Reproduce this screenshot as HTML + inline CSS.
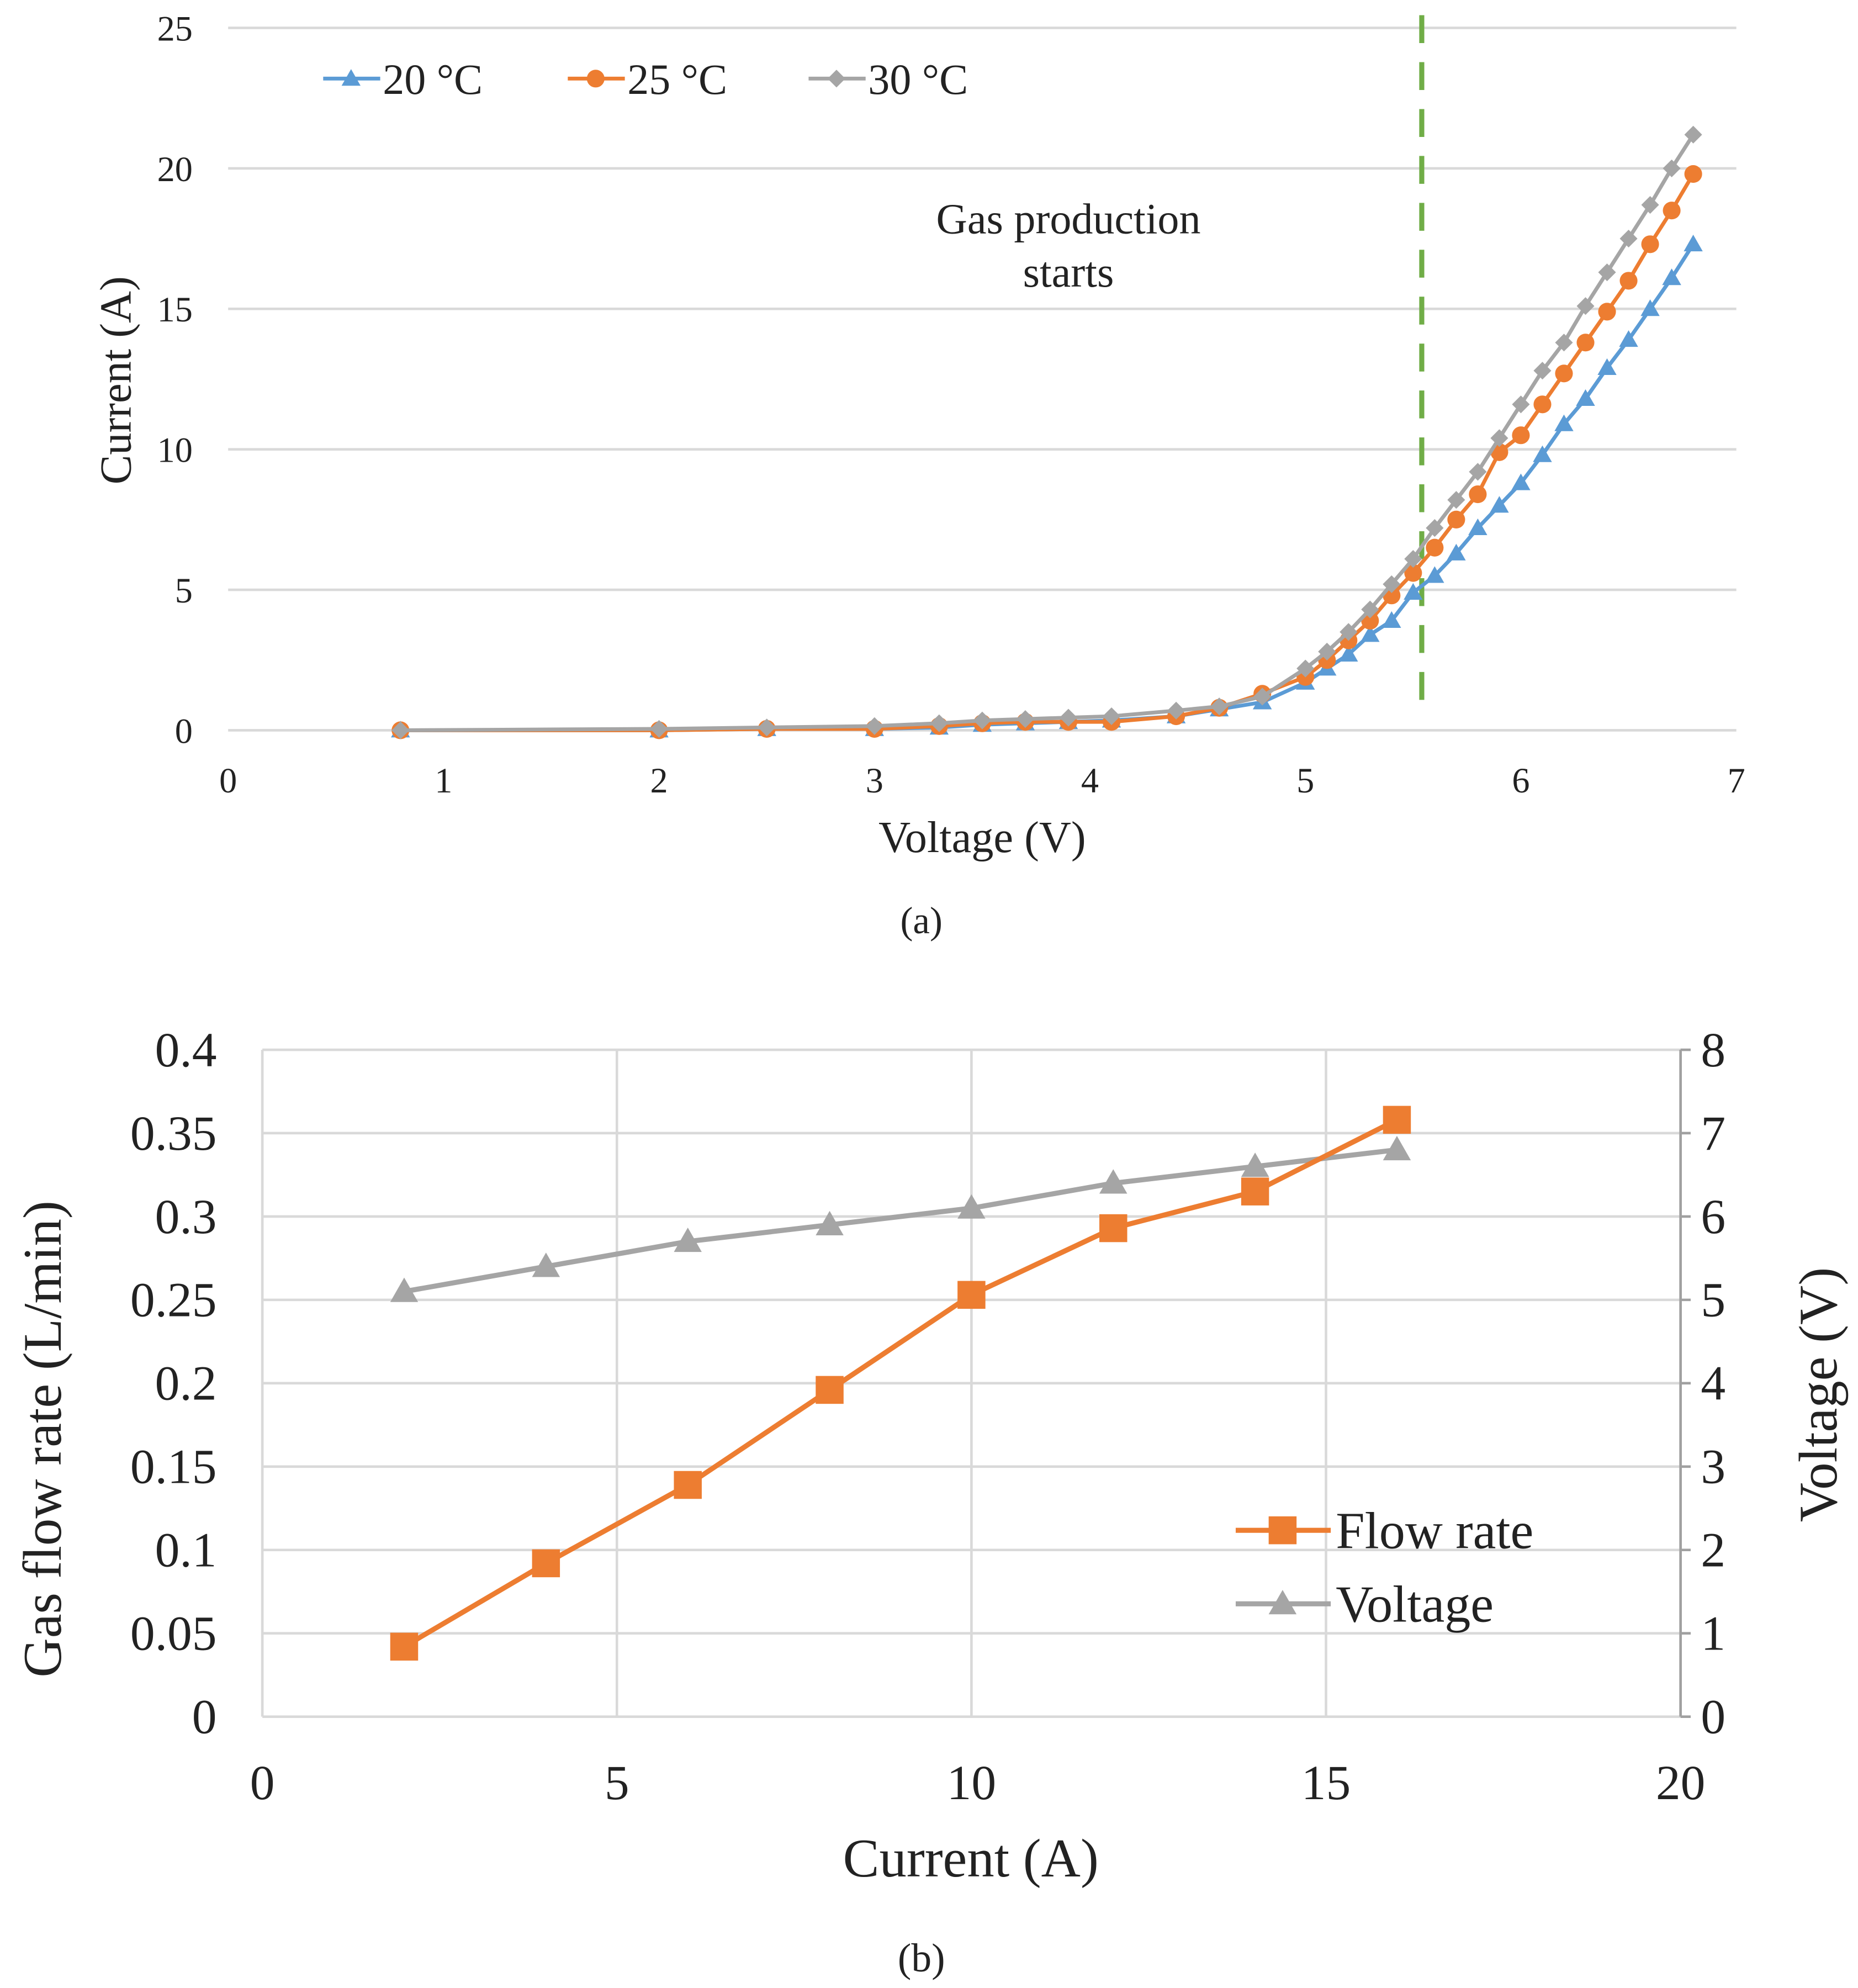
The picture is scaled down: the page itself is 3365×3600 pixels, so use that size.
<!DOCTYPE html>
<html><head><meta charset="utf-8"><style>
html,body{margin:0;padding:0;background:#fff}
svg{display:block}
text{font-family:"Liberation Serif",serif;fill:#222}
</style></head><body>
<svg id="fig" width="3365" height="3600" viewBox="0 0 1466 1568" preserveAspectRatio="none">
<g id="ca"></g>
<g id="cb"></g>
</svg>
<script>
const aVolt=[0.8,2,2.5,3,3.3,3.5,3.7,3.9,4.1,4.4,4.6,4.8,5.0,5.1,5.2,5.3,5.4,5.5,5.6,5.7,5.8,5.9,6.0,6.1,6.2,6.3,6.4,6.5,6.6,6.7,6.8];
const a20=[0,0,0.05,0.05,0.1,0.2,0.25,0.3,0.35,0.5,0.75,1.0,1.7,2.2,2.7,3.4,3.9,4.9,5.5,6.3,7.2,8.0,8.8,9.8,10.9,11.8,12.9,13.9,15.0,16.1,17.3];
const a25=[0,0,0.05,0.05,0.15,0.25,0.3,0.3,0.3,0.5,0.8,1.3,1.9,2.5,3.2,3.9,4.8,5.6,6.5,7.5,8.4,9.9,10.5,11.6,12.7,13.8,14.9,16.0,17.3,18.5,19.8];
const a30=[0,0.05,0.1,0.15,0.25,0.35,0.4,0.45,0.5,0.7,0.85,1.2,2.2,2.8,3.5,4.3,5.2,6.1,7.2,8.2,9.2,10.4,11.6,12.8,13.8,15.1,16.3,17.5,18.7,20.0,21.2];
const aXTicks=[0,1,2,3,4,5,6,7];
const aYTicks=[0,5,10,15,20,25];
const aStart=5.54;
const bCurr=[2,4,6,8,10,12,14,16];
const bFlow=[0.042,0.092,0.139,0.196,0.253,0.293,0.315,0.358];
const bVolt=[5.1,5.4,5.7,5.9,6.1,6.4,6.6,6.8];
const bXTicks=[0,5,10,15,20];
const bYTicks=[0,0.05,0.1,0.15,0.2,0.25,0.3,0.35,0.4];
const bY2Ticks=[0,1,2,3,4,5,6,7,8];

const NS='http://www.w3.org/2000/svg';
function mk(p,tag,at,txt){const e=document.createElementNS(NS,tag);for(const k in at)e.setAttribute(k,at[k]);if(txt!==undefined)e.textContent=txt;p.appendChild(e);return e;}
const BLUE='#5B9BD5',OR='#ED7D31',GR='#A5A5A5',GRN='#70AD47';
function tri(p,x,y,s,c){return mk(p,'polygon',{points:`${x},${y-s} ${x-s},${y+s*0.75} ${x+s},${y+s*0.75}`,fill:c});}
function dia(p,x,y,s,c){return mk(p,'polygon',{points:`${x},${y-s} ${x+s},${y} ${x},${y+s} ${x-s},${y}`,fill:c});}

// Chart A
const ca=document.getElementById('ca');
const ax=v=>180+v*(1370-180)/7, ay=v=>576-v*(576-22)/25;
aYTicks.forEach(t=>{
 const l=mk(ca,'line',{x1:180,x2:1370,y1:ay(t),y2:ay(t),stroke:'#d9d9d9','stroke-width':2});
 
 const tx=mk(ca,'text',{x:152,y:ay(t)+10,'text-anchor':'end','font-size':28},t);
 
});
aXTicks.forEach(t=>{
 const tx=mk(ca,'text',{x:ax(t),y:625,'text-anchor':'middle','font-size':28},t);
 
});
let t1=mk(ca,'text',{x:775,y:672,'text-anchor':'middle','font-size':35},'Voltage (V)');

let t2=mk(ca,'text',{x:103,y:300,'text-anchor':'middle','font-size':35,transform:'rotate(-90 103 300)'},'Current (A)');

let t3=mk(ca,'text',{x:727,y:736,'text-anchor':'middle','font-size':30},'(a)');

let ann=mk(ca,'text',{'text-anchor':'middle','font-size':34});

mk(ann,'tspan',{x:843,y:184},'Gas production');mk(ann,'tspan',{x:843,y:226},'starts');
let dl=mk(ca,'line',{x1:ax(aStart),x2:ax(aStart),y1:12,y2:564,stroke:GRN,'stroke-width':4,'stroke-dasharray':'22 15'});

[[a20,BLUE,tri,'series-20c'],[a25,OR,null,'series-25c'],[a30,GR,dia,'series-30c']].forEach(([d,c,f,n])=>{
 const g=mk(ca,'g',{});
 mk(g,'polyline',{points:aVolt.map((v,i)=>ax(v)+','+ay(d[i])).join(' '),fill:'none',stroke:c,'stroke-width':3});
 aVolt.forEach((v,i)=>{let m;
  if(f===tri)m=tri(g,ax(v),ay(d[i]),7.5,c);else if(f===dia)m=dia(g,ax(v),ay(d[i]),7,c);else m=mk(g,'circle',{cx:ax(v),cy:ay(d[i]),r:7,fill:c});
  });
});
[[255,'20 °C',BLUE,tri],[448,'25 °C',OR,null],[638,'30 °C',GR,dia]].forEach(([x,lab,c,f])=>{
 const g=mk(ca,'g',{});
 mk(g,'line',{x1:x,x2:x+45,y1:62,y2:62,stroke:c,'stroke-width':3});
 if(f===tri)tri(g,x+22,62,7.5,c);else if(f===dia)dia(g,x+22,62,7,c);else mk(g,'circle',{cx:x+22,cy:62,r:7,fill:c});
 mk(g,'text',{x:x+47,y:74,'font-size':34},lab);
});

// Chart B
const cb=document.getElementById('cb');
const bx=v=>207+v*(1326-207)/20, by=v=>1354-v*(1354-828)/0.4, by2=v=>1354-v*(1354-828)/8;
bYTicks.forEach((t,i)=>{
 const l=mk(cb,'line',{x1:207,x2:1326,y1:by(t),y2:by(t),stroke:'#d9d9d9','stroke-width':2});
 
 const tx=mk(cb,'text',{x:171,y:by(t)+13,'text-anchor':'end','font-size':39},t);
 
});
bXTicks.forEach(t=>{
 const l=mk(cb,'line',{x1:bx(t),x2:bx(t),y1:828,y2:1354,stroke:'#d9d9d9','stroke-width':2});
 
 const tx=mk(cb,'text',{x:bx(t),y:1419,'text-anchor':'middle','font-size':39},t);
 
});
let ra=mk(cb,'line',{x1:1326,x2:1326,y1:828,y2:1354,stroke:'#a0a0a0','stroke-width':2});

bY2Ticks.forEach(t=>{
 mk(cb,'line',{x1:1326,x2:1334,y1:by2(t),y2:by2(t),stroke:'#a0a0a0','stroke-width':2});
 const tx=mk(cb,'text',{x:1342,y:by2(t)+13,'font-size':39},t);
 
});
let b1=mk(cb,'text',{x:766,y:1480,'text-anchor':'middle','font-size':43},'Current (A)');

let b2=mk(cb,'text',{x:48,y:1135,'text-anchor':'middle','font-size':43,transform:'rotate(-90 48 1135)'},'Gas flow rate (L/min)');

let b3=mk(cb,'text',{x:1449,y:1100,'text-anchor':'middle','font-size':43,transform:'rotate(-90 1449 1100)'},'Voltage (V)');

let b4=mk(cb,'text',{x:727,y:1555,'text-anchor':'middle','font-size':32},'(b)');

const gv=mk(cb,'g',{});
mk(gv,'polyline',{points:bCurr.map((c,i)=>bx(c)+','+by2(bVolt[i])).join(' '),fill:'none',stroke:GR,'stroke-width':4});
bCurr.forEach((c,i)=>{const m=tri(gv,bx(c),by2(bVolt[i]),11,GR);});
const gf=mk(cb,'g',{});
mk(gf,'polyline',{points:bCurr.map((c,i)=>bx(c)+','+by(bFlow[i])).join(' '),fill:'none',stroke:OR,'stroke-width':4});
bCurr.forEach((c,i)=>{const m=mk(gf,'rect',{x:bx(c)-11,y:by(bFlow[i])-11,width:22,height:22,fill:OR});});
const l1=mk(cb,'g',{});
mk(l1,'line',{x1:975,x2:1050,y1:1207,y2:1207,stroke:OR,'stroke-width':4});
mk(l1,'rect',{x:1001,y:1196,width:22,height:22,fill:OR});
mk(l1,'text',{x:1054,y:1221,'font-size':41},'Flow rate');
const l2=mk(cb,'g',{});
mk(l2,'line',{x1:975,x2:1050,y1:1265,y2:1265,stroke:GR,'stroke-width':4});
tri(l2,1012,1265,11,GR);
mk(l2,'text',{x:1054,y:1279,'font-size':41},'Voltage');
</script>
</body></html>
